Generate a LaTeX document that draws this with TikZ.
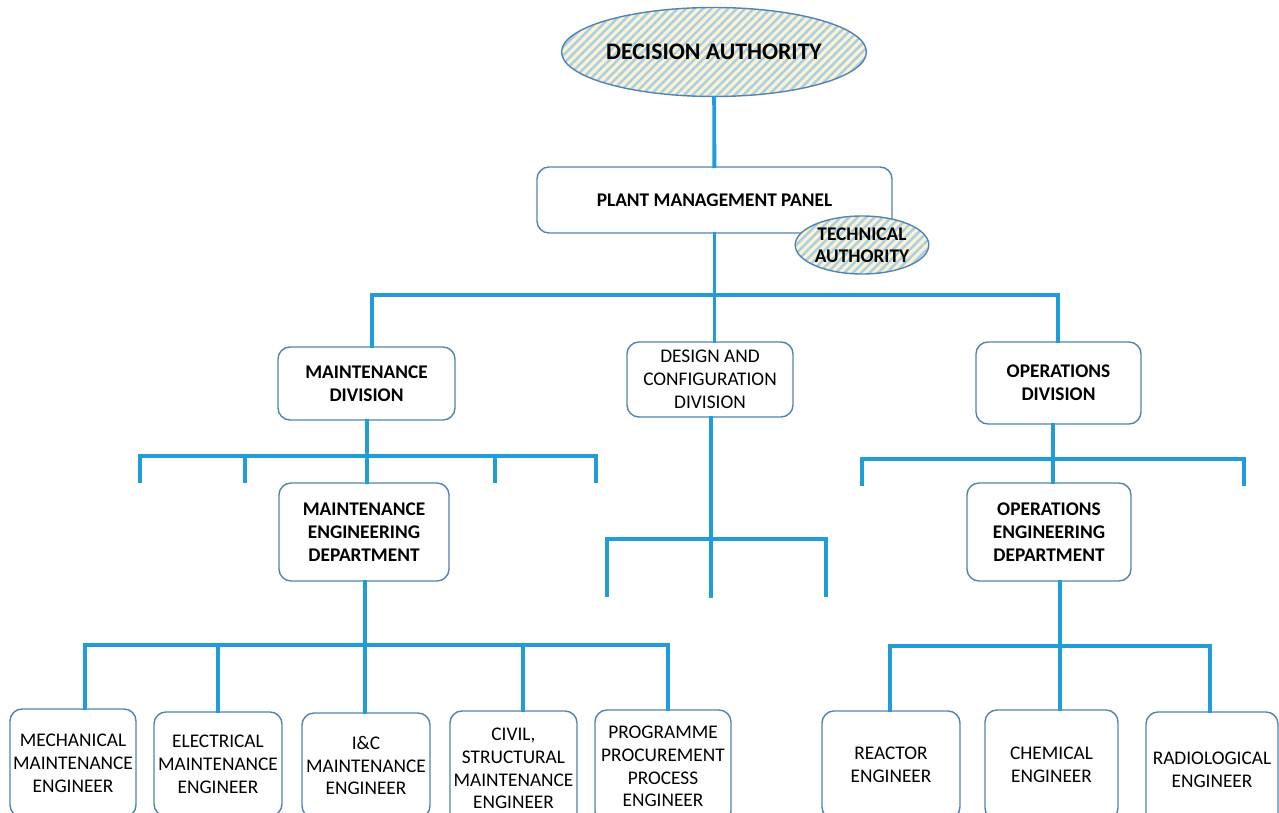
\documentclass[tikz,border=0pt]{standalone}
\usepackage{fontspec}
\setmainfont{Carlito}
\usetikzlibrary{shapes.geometric,patterns.meta}
\definecolor{linkblue}{RGB}{30,157,217}
\definecolor{boxblue}{RGB}{84,130,178}
\definecolor{hatchblue}{RGB}{165,208,236}
\definecolor{hatchyellow}{RGB}{255,241,204}

\begin{document}
\begin{tikzpicture}[x=0.02cm,y=-0.02cm,
  sz/.style 2 args={minimum width=#1*0.02cm,minimum height=#2*0.02cm},
  unit/.style={draw=boxblue,line width=0.8pt,rounded corners=0.24cm,fill=white,
    inner sep=0pt,align=center,font=\fontsize{11}{13}\selectfont},
  head/.style={unit,font=\fontsize{11}{13}\selectfont\bfseries},
  authority/.style={ellipse,draw=boxblue,line width=0.8pt,inner sep=0pt,align=center,
    preaction={fill=hatchyellow},
    pattern={Lines[angle=45,distance=3.4pt,line width=1.4pt]},pattern color=hatchblue},
  link/.style={linkblue,line width=2.2pt,line cap=rect}]

\useasboundingbox (0,0) rectangle (1279,813);

% top of the chart
\node[authority,sz={268}{89},font=\fontsize{13.5}{15}\selectfont\bfseries] (decision) at (714,52) {DECISION AUTHORITY};
\node[head,sz={355}{66}] (panel) at (714.5,200) {PLANT MANAGEMENT PANEL};
\node[authority,sz={130}{58},font=\fontsize{11}{12.5}\selectfont\bfseries] (technical) at (862,245) {TECHNICAL\\AUTHORITY};

% divisions
\node[head,sz={177}{73}] (maintdiv) at (366.5,383.5) {MAINTENANCE\\DIVISION};
\node[unit,sz={166}{75}] (designdiv) at (710,379.5) {DESIGN AND\\CONFIGURATION\\DIVISION};
\node[head,sz={165}{82}] (opsdiv) at (1058.5,383) {OPERATIONS\\DIVISION};

% departments
\node[head,sz={170}{98}] (maintdept) at (364,532) {MAINTENANCE\\ENGINEERING\\DEPARTMENT};
\node[head,sz={164}{98}] (opsdept) at (1049,532) {OPERATIONS\\ENGINEERING\\DEPARTMENT};

% engineers
\node[unit,sz={126}{108}] (mech) at (73,763) {MECHANICAL\\MAINTENANCE\\ENGINEER};
\node[unit,sz={128}{104}] (elec) at (218,764) {ELECTRICAL\\MAINTENANCE\\ENGINEER};
\node[unit,sz={128}{105}] (ic) at (366,765.5) {I\&C\\MAINTENANCE\\ENGINEER};
\node[unit,sz={127}{115}] (civil) at (513.5,768.5) {CIVIL,\\STRUCTURAL\\MAINTENANCE\\ENGINEER};
\node[unit,sz={136}{113}] (prog) at (663,766.5) {PROGRAMME\\PROCUREMENT\\PROCESS\\ENGINEER};
\node[unit,sz={138}{108}] (reactor) at (891,765) {REACTOR\\ENGINEER};
\node[unit,sz={133}{110}] (chem) at (1051.5,765) {CHEMICAL\\ENGINEER};
\node[unit,sz={132}{116}] (radio) at (1212,770) {RADIOLOGICAL\\ENGINEER};

% bus ends
\coordinate (topL) at (372,295);
\coordinate (topR) at (1058,295);
\coordinate (mdL) at (140,456);
\coordinate (mdA) at (245,456);
\coordinate (mdB) at (495,456);
\coordinate (mdR) at (596,456);
\coordinate (dsL) at (607,539);
\coordinate (dsR) at (826,539);
\coordinate (odL) at (862,459);
\coordinate (odR) at (1244,459);
\coordinate (meL) at (85,645);
\coordinate (meA) at (218,645);
\coordinate (meB) at (523,645);
\coordinate (meR) at (668,645);
\coordinate (oeL) at (890,646);
\coordinate (oeR) at (1210,646);

% connectors
\draw[link] (decision) -- (panel);
\draw[link] (panel.south) -- (panel.south |- topL);
\draw[link] (topL |- maintdiv.north) -- (topL) -- (topR) -- (topR |- opsdiv.north);
\draw[link] (panel.south |- topL) -- (panel.south |- designdiv.north);

\draw[link] (mdL) ++(0,25) -- (mdL) -- (mdR) -- ++(0,25);
\draw[link] (mdA) -- ++(0,25);
\draw[link] (mdB) -- ++(0,25);
\draw[link] (maintdiv.south) ++(0.5,0) -- (maintdept.north -| 367,0);

\draw[link] (dsL) ++(0,56) -- (dsL) -- (dsR) -- ++(0,56);
\draw[link] (designdiv.south) ++(1,0) -- ++(0,178);

\draw[link] (odL) ++(0,25) -- (odL) -- (odR) -- ++(0,25);
\draw[link] (opsdiv.south -| 1053,0) -- (opsdept.north -| 1053,0);

\draw[link] (maintdept.south) ++(1,0) -- ++(0,64);
\draw[link] (mech.north -| meL) -- (meL) -- (meR) -- (prog.north -| meR);
\draw[link] (meA) -- (elec.north -| meA);
\draw[link] (maintdept.south -| ic) ++(-1,0) -- (ic.north -| 365,0);
\draw[link] (meB) -- (civil.north -| meB);

\draw[link] (opsdept.south -| 1060,0) -- (chem.north -| 1060,0);
\draw[link] (reactor.north -| oeL) -- (oeL) -- (oeR) -- (radio.north -| oeR);

\end{tikzpicture}
\end{document}
